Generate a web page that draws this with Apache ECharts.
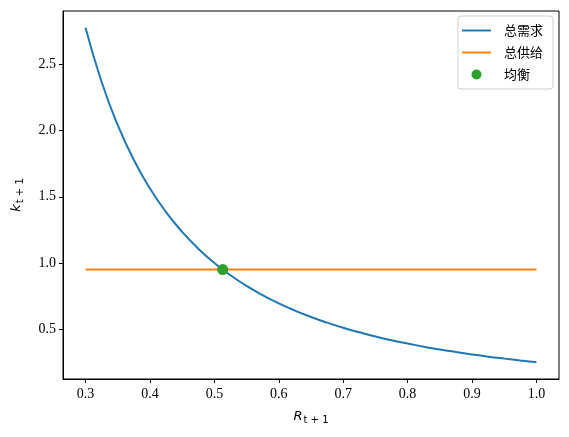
<!DOCTYPE html>
<html>
<head>
<meta charset="utf-8">
<script src="https://cdn.jsdelivr.net/npm/echarts@6/dist/echarts.min.js"></script>
<style>html,body{margin:0;padding:0;background:#fff}#c{width:569px;height:437px}</style>
</head>
<body>
<div id="c"></div>
<script>
const R = [0.300,0.325,0.350,0.375,0.400,0.425,0.450,0.475,0.500,0.525,0.550,0.575,0.600,0.625,0.650,0.675,0.700,0.725,0.750,0.775,0.800,0.825,0.850,0.875,0.900,0.925,0.950,0.975,1.000];
const demand = [2.778,2.367,2.041,1.778,1.563,1.384,1.235,1.108,1.000,0.907,0.826,0.756,0.694,0.640,0.592,0.549,0.510,0.476,0.444,0.416,0.391,0.367,0.346,0.327,0.309,0.292,0.277,0.263,0.250];
const supplyR = [0.300, 1.000];
const supplyK = [0.950, 0.950];
const equilibrium = [0.513, 0.950];
const xTicks = [0.3,0.4,0.5,0.6,0.7,0.8,0.9,1.0];
const yTicks = [0.5,1.0,1.5,2.0,2.5];
const names = ['总需求','总供给','均衡'];

const serif = 'Liberation Serif';
const lineIcon = 'path://M0,0M30,10M0,4H30V6H0Z';
const chart = echarts.init(document.getElementById('c'));
chart.setOption({
  animation: false,
  backgroundColor: '#fff',
  grid: {left: 63, right: 10, top: 11, bottom: 58, show: true, borderColor: '#000', borderWidth: 1, backgroundColor: 'transparent'},
  legend: {
    orient: 'vertical', right: 16, top: 16,
    borderColor: '#d0d0d0', borderWidth: 1, borderRadius: 3,
    backgroundColor: 'rgba(255,255,255,0.8)',
    padding: [8, 10, 8, 4],
    itemGap: 9, itemWidth: 29, itemHeight: 10,
    textStyle: {fontFamily: 'Noto Sans CJK SC', fontSize: 13, color: '#000', padding: [0,0,0,8]},
    data: [
      {name: names[0], icon: lineIcon, itemStyle: {color: '#1f77b4'}},
      {name: names[1], icon: lineIcon, itemStyle: {color: '#ff7f0e'}},
      {name: names[2], icon: 'circle', itemStyle: {color: '#2ca02c'}}
    ]
  },
  xAxis: {
    type: 'value', min: 0.265, max: 1.035,
    name: '{i|R}{s|t + 1}', nameLocation: 'middle', nameGap: 30,
    nameTextStyle: {rich: {i: {fontFamily: 'DejaVu Sans', fontStyle: 'italic', fontSize: 13, color: '#000'}, s: {fontFamily: 'DejaVu Sans', fontSize: 10, color: '#000', padding: [6,0,0,1]}}},
    axisLine: {show: true, lineStyle: {color: '#000'}},
    axisTick: {show: true, inside: false, length: 4, lineStyle: {color: '#000'}, customValues: xTicks},
    axisLabel: {color: '#000', fontFamily: serif, fontSize: 14, margin: 8, customValues: xTicks, formatter: v => v.toFixed(1)},
    splitLine: {show: false}
  },
  yAxis: {
    type: 'value', min: 0.123, max: 2.904,
    name: '{i|k}{s|t + 1}', nameLocation: 'middle', nameGap: 38,
    nameTextStyle: {rich: {i: {fontFamily: 'DejaVu Sans', fontStyle: 'italic', fontSize: 13, color: '#000'}, s: {fontFamily: 'DejaVu Sans', fontSize: 10, color: '#000', padding: [6,0,0,1]}}},
    axisLine: {show: true, lineStyle: {color: '#000'}},
    axisTick: {show: true, inside: false, length: 4, lineStyle: {color: '#000'}, customValues: yTicks},
    axisLabel: {color: '#000', fontFamily: serif, fontSize: 14, margin: 7, customValues: yTicks, formatter: v => v.toFixed(1)},
    splitLine: {show: false}
  },
  series: [
    {name: names[0], type: 'line', symbol: 'none', smooth: true, data: R.map((r, i) => [r, demand[i]]), lineStyle: {color: '#1f77b4', width: 2}, itemStyle: {color: '#1f77b4'}, z: 2},
    {name: names[1], type: 'line', symbol: 'none', data: supplyR.map((r, i) => [r, supplyK[i]]), lineStyle: {color: '#ff7f0e', width: 2}, itemStyle: {color: '#ff7f0e'}, z: 2},
    {name: names[2], type: 'scatter', symbolSize: 11, data: [equilibrium], itemStyle: {color: '#2ca02c', opacity: 1}, z: 5}
  ]
});
</script>
</body>
</html>
